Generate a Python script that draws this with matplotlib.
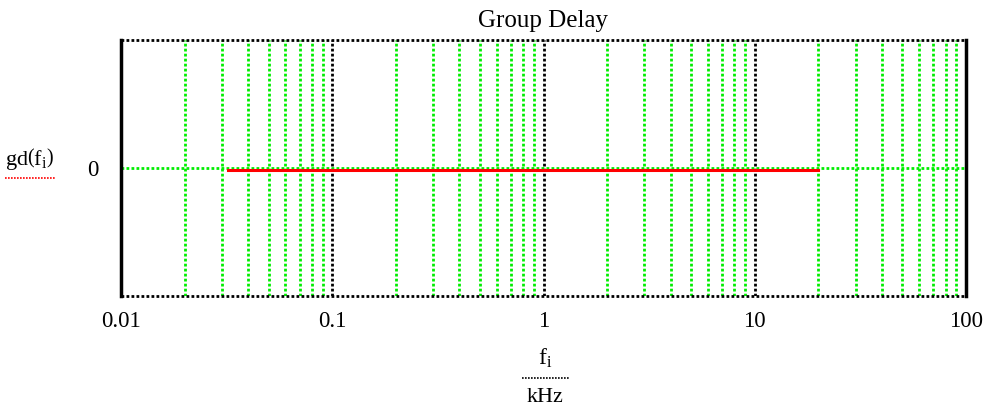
import matplotlib.pyplot as plt
import numpy as np

# group delay data (kHz, value)
freq_khz = [0.032, 0.1, 0.3, 1, 3, 10, 20]
gd = [-0.015, -0.015, -0.015, -0.015, -0.015, -0.015, -0.015]

xticks = [0.01, 0.1, 1, 10, 100]
xtick_labels = ["0.01", "0.1", "1", "10", "100"]

plt.rcParams['font.family'] = ['Liberation Serif', 'DejaVu Serif']
plt.rcParams['mathtext.fontset'] = 'custom'
plt.rcParams['mathtext.rm'] = 'Liberation Serif'
plt.rcParams['mathtext.it'] = 'Liberation Serif:italic'

fig = plt.figure(figsize=(9.9, 4.12), dpi=100)
ax = fig.add_axes([121/990, 1-296/412, 845/990, 256/412])

ax.set_xscale('log')
ax.set_xlim(0.01, 100)
ax.set_ylim(-1, 1)

dots = (0, (1, 0.8))
# minor grid (green) and decade lines (black)
for dec in [0.01, 0.1, 1, 10]:
    for m in range(2, 10):
        ax.axvline(dec*m, color='#00ee00', lw=2, ls=dots, zorder=1)
for d in [0.1, 1, 10]:
    ax.axvline(d, color='black', lw=2, ls=dots, zorder=1)
ax.axhline(0, color='#00ee00', lw=2, ls=dots, zorder=1)

ax.plot(freq_khz, gd, color='#ff0000', lw=2.2, zorder=3)

ax.set_xticks(xticks)
ax.set_xticklabels(xtick_labels)
ax.xaxis.set_minor_locator(plt.NullLocator())
ax.set_yticks([0])
ax.set_yticklabels(["0"])
ax.tick_params(length=0, labelsize=16.5, pad=11)
ax.tick_params(axis='y', pad=16)

for side in ['top', 'bottom']:
    ax.spines[side].set_linestyle(dots)
    ax.spines[side].set_linewidth(2)
    ax.spines[side].set_capstyle('butt')
ax.spines['left'].set_linewidth(2.5)
ax.spines['right'].set_linewidth(2.5)

ax.set_title("Group Delay", fontsize=18, pad=9)

# y label in Mathcad style
fig.text(30/990, 1-159/412, r"$\mathrm{gd}\left(\mathrm{f_i}\right)$", fontsize=16, ha='center', va='center')
fig.add_artist(plt.Line2D([5/990, 56/990], [1-178/412, 1-178/412], color='red', lw=1.2, ls=dots))

# x label
fig.text(545/990, 1-358/412, r"$\mathrm{f_i}$", fontsize=17, ha='center', va='center')
fig.add_artist(plt.Line2D([522/990, 569/990], [1-378/412, 1-378/412], color='black', lw=1.2, ls=dots))
fig.text(545/990, 1-398/412, "kHz", fontsize=16, ha='center', va='center')

fig.savefig("out.png", dpi=100)
